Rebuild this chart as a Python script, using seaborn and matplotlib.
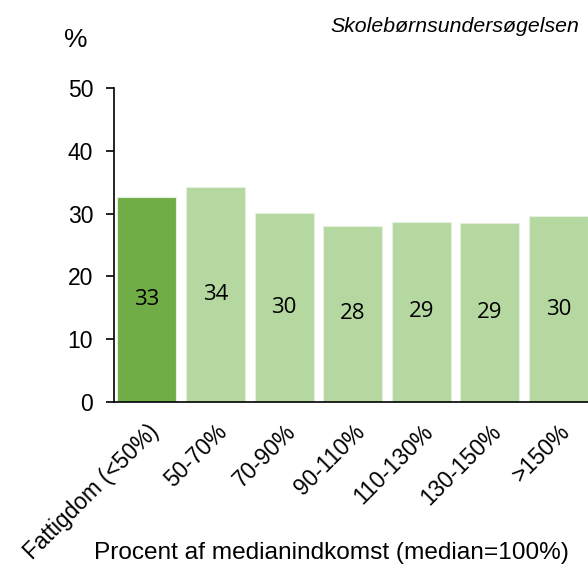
import matplotlib
matplotlib.use("Agg")
import matplotlib.pyplot as plt
import seaborn as sns
import pandas as pd

categories = ["Fattigdom (<50%)", "50-70%", "70-90%", "90-110%", "110-130%", "130-150%", ">150%"]
values = [32.7, 34.3, 30.1, 28.1, 28.7, 28.55, 29.6]
labels = ["33", "34", "30", "28", "29", "29", "30"]
bar_colors = ["#70AD47", "#B5D8A0", "#B5D8A0", "#B5D8A0", "#B5D8A0", "#B5D8A0", "#B5D8A0"]
yticks = [0, 10, 20, 30, 40, 50]

sns.set_theme(style="white")
plt.rcParams["font.family"] = ["Liberation Sans", "DejaVu Sans"]
plt.rcParams["text.color"] = "black"
plt.rcParams["xtick.color"] = "black"
plt.rcParams["ytick.color"] = "black"

df = pd.DataFrame({"cat": categories, "val": values})

fig = plt.figure(figsize=(5.88, 5.68), dpi=100)
ax = fig.add_axes([114 / 588, 1 - 402 / 568, 1 - 114 / 588, (402 - 88) / 568])

sns.barplot(data=df, x="cat", y="val", hue="cat", palette=bar_colors, legend=False,
            width=0.86, saturation=1, ax=ax, edgecolor="#E6F0DE", linewidth=0.8)

for i, (v, lab) in enumerate(zip(values, labels)):
    ax.text(i, v / 2, lab, ha="center", va="center", fontsize=16,
            family=["Open Sans", "DejaVu Sans"], color="black")

ax.set_ylim(0, 50)
ax.set_xlim(-0.48, 6.43)
ax.set_yticks(yticks)
ax.set_yticklabels([str(t) for t in yticks], fontsize=16.5)
ax.tick_params(axis="y", direction="out", length=6, width=1.2, color="black", left=True, pad=9)
ax.tick_params(axis="x", length=0, pad=13)
ax.set_xticks(range(len(categories)))
ax.set_xticklabels(categories, rotation=45, ha="right", rotation_mode="anchor", fontsize=16.3)
ax.set_xlabel("")
ax.set_ylabel("")

for s in ["top", "right"]:
    ax.spines[s].set_visible(False)
for s in ["left", "bottom"]:
    ax.spines[s].set_color("black")
    ax.spines[s].set_linewidth(1.2)

fig.text(76 / 588, 1 - 40 / 568, "%", fontsize=19, ha="center", va="center")
fig.text(579 / 588, 1 - 27 / 568, "Skolebørnsundersøgelsen", fontsize=15.3, style="italic",
         ha="right", va="center")
fig.text(331 / 588, 1 - 553 / 568, "Procent af medianindkomst (median=100%)", fontsize=17.6,
         ha="center", va="center")

fig.savefig("out.png", dpi=100)
